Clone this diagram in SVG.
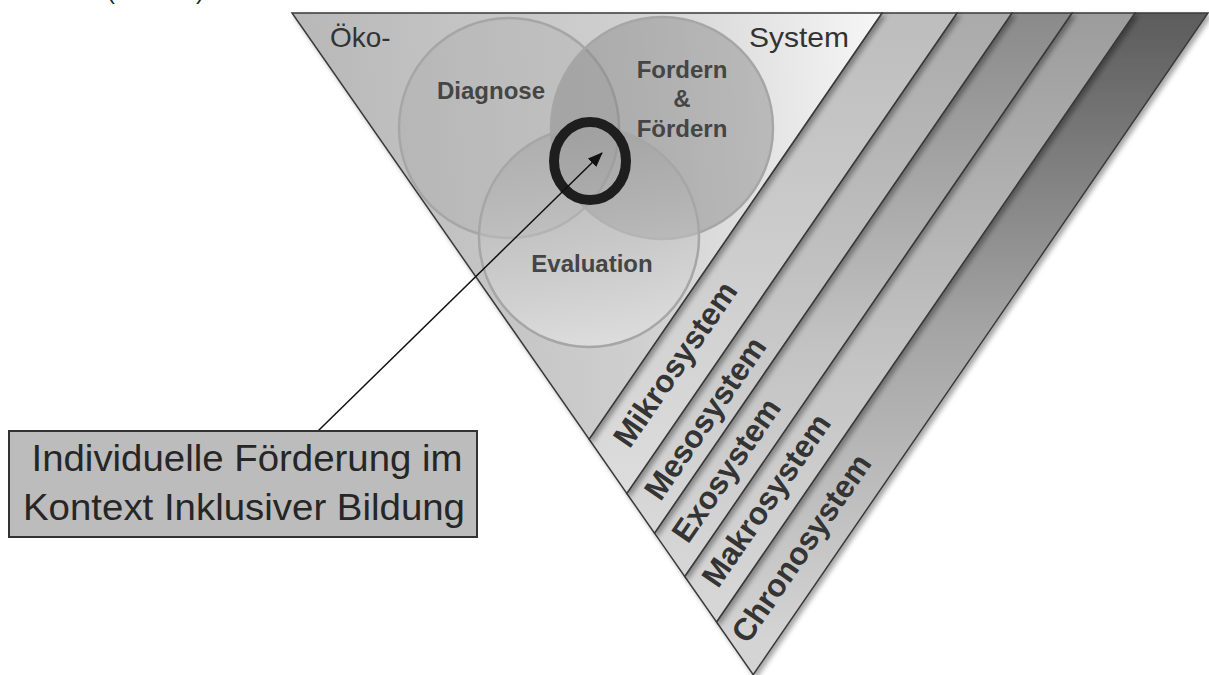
<svg xmlns="http://www.w3.org/2000/svg" width="1209" height="675" viewBox="0 0 1209 675">
<style>
.band{stroke:#3a3a3a;stroke-width:1.5;stroke-linejoin:miter}
.venn{stroke:#a6a6a6;stroke-width:2.5}
.vlab{font-family:"Liberation Sans",Arial,sans-serif;font-weight:bold;font-size:24px;fill:#454545;text-anchor:middle}
.blab{font-family:"Liberation Sans",Arial,sans-serif;font-weight:bold;font-size:31.5px;fill:#343434;text-anchor:middle}
.tlab{font-family:"Liberation Sans",Arial,sans-serif;font-size:28px;fill:#333}
.box{font-family:"Liberation Sans",Arial,sans-serif;font-size:37px;fill:#262626;text-anchor:middle}
</style>
<defs>
<filter id="sh" x="-20%" y="-20%" width="140%" height="140%">
<feDropShadow dx="3" dy="3" stdDeviation="2.5" flood-color="#000" flood-opacity="0.35"/>
</filter>
<linearGradient id="g0" x1="300" y1="60" x2="880" y2="20" gradientUnits="userSpaceOnUse">
<stop offset="0" stop-color="#b8b8b8"/><stop offset="0.55" stop-color="#cfcfcf"/><stop offset="1" stop-color="#f6f6f6"/>
</linearGradient>
<linearGradient id="g1" x1="0" y1="13" x2="0" y2="480" gradientUnits="userSpaceOnUse">
<stop offset="0" stop-color="#bdbdbd"/><stop offset="1" stop-color="#dcdcdc"/>
</linearGradient>
<linearGradient id="g2" x1="0" y1="13" x2="0" y2="520" gradientUnits="userSpaceOnUse">
<stop offset="0" stop-color="#aaaaaa"/><stop offset="1" stop-color="#d8d8d8"/>
</linearGradient>
<linearGradient id="g3" x1="0" y1="13" x2="0" y2="560" gradientUnits="userSpaceOnUse">
<stop offset="0" stop-color="#8a8a8a"/><stop offset="0.6" stop-color="#c2c2c2"/><stop offset="1" stop-color="#d6d6d6"/>
</linearGradient>
<linearGradient id="g4" x1="0" y1="13" x2="0" y2="600" gradientUnits="userSpaceOnUse">
<stop offset="0" stop-color="#9c9c9c"/><stop offset="0.6" stop-color="#c4c4c4"/><stop offset="1" stop-color="#d6d6d6"/>
</linearGradient>
<linearGradient id="g5" x1="0" y1="13" x2="0" y2="640" gradientUnits="userSpaceOnUse">
<stop offset="0" stop-color="#5c5c5c"/><stop offset="0.5" stop-color="#a4a4a4"/><stop offset="1" stop-color="#d4d4d4"/>
</linearGradient>
<linearGradient id="ge" x1="0" y1="0" x2="0" y2="1">
<stop offset="0" stop-color="#9a9a9a" stop-opacity="0.45"/><stop offset="1" stop-color="#e8e8e8" stop-opacity="0.6"/>
</linearGradient>
<marker id="ah" markerWidth="16" markerHeight="12" refX="14" refY="6" orient="auto" markerUnits="userSpaceOnUse">
<path d="M0,0 L15,6 L0,12 Z" fill="#111"/>
</marker>
</defs>

<rect width="1209" height="675" fill="#fff"/>

<g id="cutoff-text">
<text x="107" y="-1" style="font-family:'Liberation Sans',Arial,sans-serif;font-size:24px;fill:#222">(</text>
<text x="196" y="-1" style="font-family:'Liberation Sans',Arial,sans-serif;font-size:24px;fill:#222">)</text>
</g>

<g id="chronosystem">
<polygon class="band" filter="url(#sh)" fill="url(#g5)" points="1135,13 1208,13 753.2,674.7 716.5,622"/>
<text class="blab" dy="0.35em" transform="translate(801,548) rotate(-55.5)">Chronosystem</text>
</g>
<g id="makrosystem">
<polygon class="band" filter="url(#sh)" fill="url(#g4)" points="1072,13 1135,13 716.5,622 684.7,576.5"/>
<text class="blab" dy="0.35em" transform="translate(766,500) rotate(-55.5)">Makrosystem</text>
</g>
<g id="exosystem">
<polygon class="band" filter="url(#sh)" fill="url(#g3)" points="1012,13 1072,13 684.7,576.5 654.5,533.1"/>
<text class="blab" dy="0.35em" transform="translate(726,470) rotate(-55.5)">Exosystem</text>
</g>
<g id="mesosystem">
<polygon class="band" filter="url(#sh)" fill="url(#g2)" points="957,13 1012,13 654.5,533.1 626.8,493.4"/>
<text class="blab" dy="0.35em" transform="translate(705,418) rotate(-55.5)">Mesosystem</text>
</g>
<g id="mikrosystem">
<polygon class="band" filter="url(#sh)" fill="url(#g1)" points="882,13 957,13 626.8,493.4 589.1,439.2"/>
<text class="blab" dy="0.35em" transform="translate(675,364) rotate(-55.5)">Mikrosystem</text>
</g>
<g id="oekosystem">
<polygon class="band" filter="url(#sh)" fill="url(#g0)" points="292,13 882,13 589.1,439.2"/>
<text class="tlab" x="330" y="47">Öko-</text>
<text class="tlab" x="749" y="47" textLength="100" lengthAdjust="spacingAndGlyphs">System</text>
</g>

<g id="diagnose">
<circle class="venn" cx="509" cy="128" r="110" fill="#a4a4a4" fill-opacity="0.3"/>
</g>
<g id="fordern">
<circle class="venn" cx="662" cy="128" r="111" fill="#858585" fill-opacity="0.45"/>
</g>
<g id="evaluation">
<circle class="venn" cx="589" cy="237" r="110" fill="url(#ge)"/>
</g>
<g id="venn-labels">
<text class="vlab" x="491" y="99">Diagnose</text>
<text class="vlab" x="682" y="78">Fordern</text>
<text class="vlab" x="682" y="107">&amp;</text>
<text class="vlab" x="682" y="137">Fördern</text>
<text class="vlab" x="592" y="272">Evaluation</text>
</g>
<g id="focus-ring">
<ellipse cx="590" cy="161" rx="36" ry="39" fill="none" stroke="#1e1e1e" stroke-width="10"/>
</g>

<g id="connectors">
<line x1="318" y1="431" x2="602" y2="153" stroke="#111" stroke-width="1.5" marker-end="url(#ah)"/>
</g>

<g id="individuelle-foerderung">
<rect x="9" y="431" width="468" height="106" fill="#bcbcbc" stroke="#333" stroke-width="2"/>
<text class="box" x="247" y="471" textLength="431" lengthAdjust="spacingAndGlyphs">Individuelle Förderung im</text>
<text class="box" x="244" y="520" textLength="442" lengthAdjust="spacingAndGlyphs">Kontext Inklusiver Bildung</text>
</g>
</svg>
